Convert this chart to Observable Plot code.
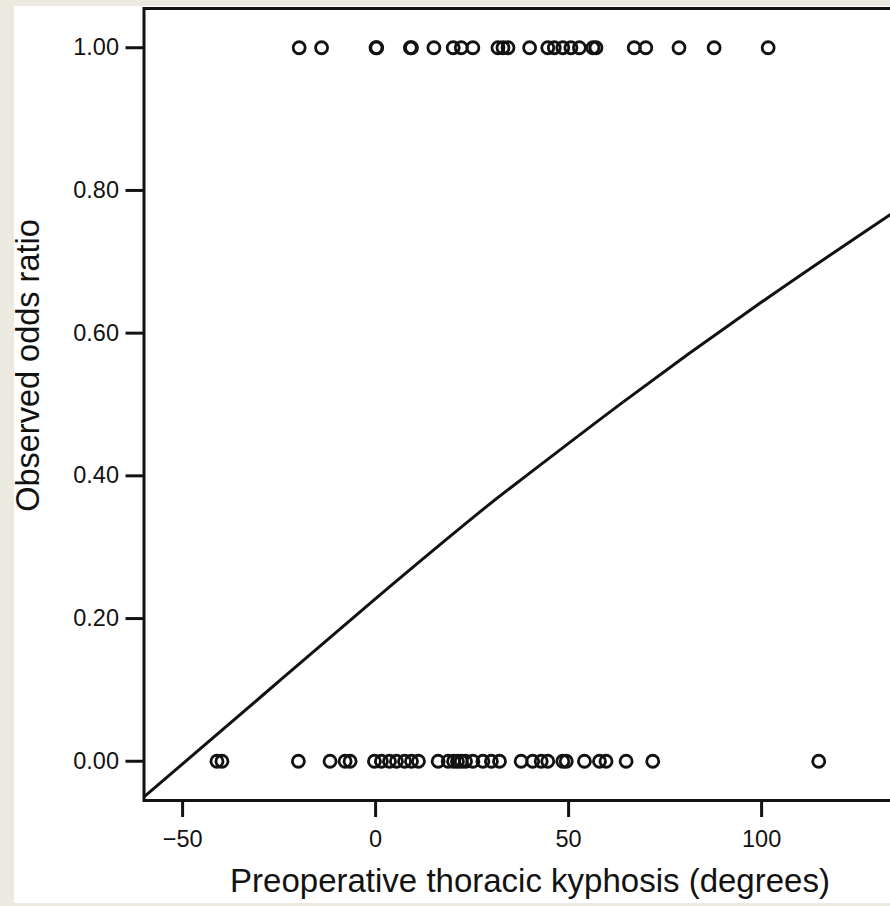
<!DOCTYPE html>
<html>
<head>
<meta charset="utf-8">
<script src="https://cdn.jsdelivr.net/npm/d3@7"></script>
<script src="https://cdn.jsdelivr.net/npm/@observablehq/plot@0.6"></script>
<style>
  html, body { margin: 0; padding: 0; width: 890px; height: 906px; overflow: hidden; background: #ece9e0; }
  #panel { position: absolute; left: 14px; top: 6px; width: 900px; height: 897px; background: #ffffff; }
  #chart { position: absolute; left: 0; top: 0; width: 1000px; }
  #chart svg { max-width: none !important; }
</style>
</head>
<body>
<div id="panel"></div>
<div id="chart"></div>
<script>
// Observed outcome = 1.00 (top row), kyphosis in degrees
const topX = [-19.8, -14.0, 0.1, 0.3, 9.0, 9.3, 15.1, 20.1, 22.2, 25.2, 31.7, 33.0, 34.3, 39.9,
  44.6, 46.3, 48.5, 50.6, 52.8, 56.3, 57.1, 67.0, 70.0, 78.6, 87.7, 101.7];
// Observed outcome = 0.00 (bottom row)
const bottomX = [-41.1, -39.8, -20.0, -11.8, -7.9, -6.6, -0.3, 1.5, 3.6, 5.4, 7.5, 9.3, 11.1,
  16.2, 18.8, 20.2, 21.2, 22.2, 23.3, 25.2, 27.8, 30.0, 32.1, 37.7, 40.7, 42.9, 44.6, 48.5, 49.4,
  54.1, 58.0, 59.7, 64.9, 71.8, 114.8];
const topY = 1.0;
const bottomY = 0.0;
// Fitted curve
const curveX = [-60, -30, 0, 26, 39, 64, 98, 133, 140];
const curveY = [-0.05, 0.089, 0.228, 0.345, 0.4, 0.503, 0.636, 0.765, 0.79];
const xTicks = [-50, 0, 50, 100];
const yTicks = [0, 0.2, 0.4, 0.6, 0.8, 1.0];
const xLabel = "Preoperative thoracic kyphosis (degrees)";
const yLabel = "Observed odds ratio";

const points = [
  ...topX.map(x => ({x, y: topY})),
  ...bottomX.map(x => ({x, y: bottomY}))
];
const curve = curveX.map((x, i) => ({x, y: curveY[i]}));

const ink = "#121212";
const chart = Plot.plot({
  width: 1000,
  height: 906,
  marginLeft: 143.5,
  marginRight: 84.5,
  marginTop: 8,
  marginBottom: 106,
  style: {background: "transparent", fontFamily: "'Liberation Sans', Arial, sans-serif", color: ink, maxWidth: "none"},
  x: {domain: [-60, 140]},
  y: {domain: [-0.055, 1.055]},
  marks: [
    Plot.line(curve, {x: "x", y: "y", stroke: ink, strokeWidth: 3, curve: "natural", clip: "frame"}),
    Plot.dot(points, {x: "x", y: "y", r: 6, stroke: ink, strokeWidth: 2.8, fill: "none"}),
    Plot.frame({stroke: ink, strokeWidth: 3}),
    Plot.axisX({ticks: xTicks, tickSize: 17, tickPadding: 13, fontSize: 23.5, strokeWidth: 3, stroke: ink, fill: ink, label: null}),
    Plot.axisY({ticks: yTicks, tickFormat: d3.format(".2f"), tickSize: 18, tickPadding: 7, fontSize: 23.5, strokeWidth: 3, stroke: ink, fill: ink, label: null}),
    Plot.text([xLabel], {frameAnchor: "bottom", dy: 81, textAnchor: "middle", lineAnchor: "middle", fontSize: 33, fill: ink, text: d => d}),
    Plot.text([yLabel], {frameAnchor: "left", rotate: -90, dx: -115, dy: -39, textAnchor: "middle", lineAnchor: "middle", fontSize: 32.5, fill: ink, text: d => d})
  ]
});
document.getElementById("chart").appendChild(chart);
</script>
</body>
</html>
